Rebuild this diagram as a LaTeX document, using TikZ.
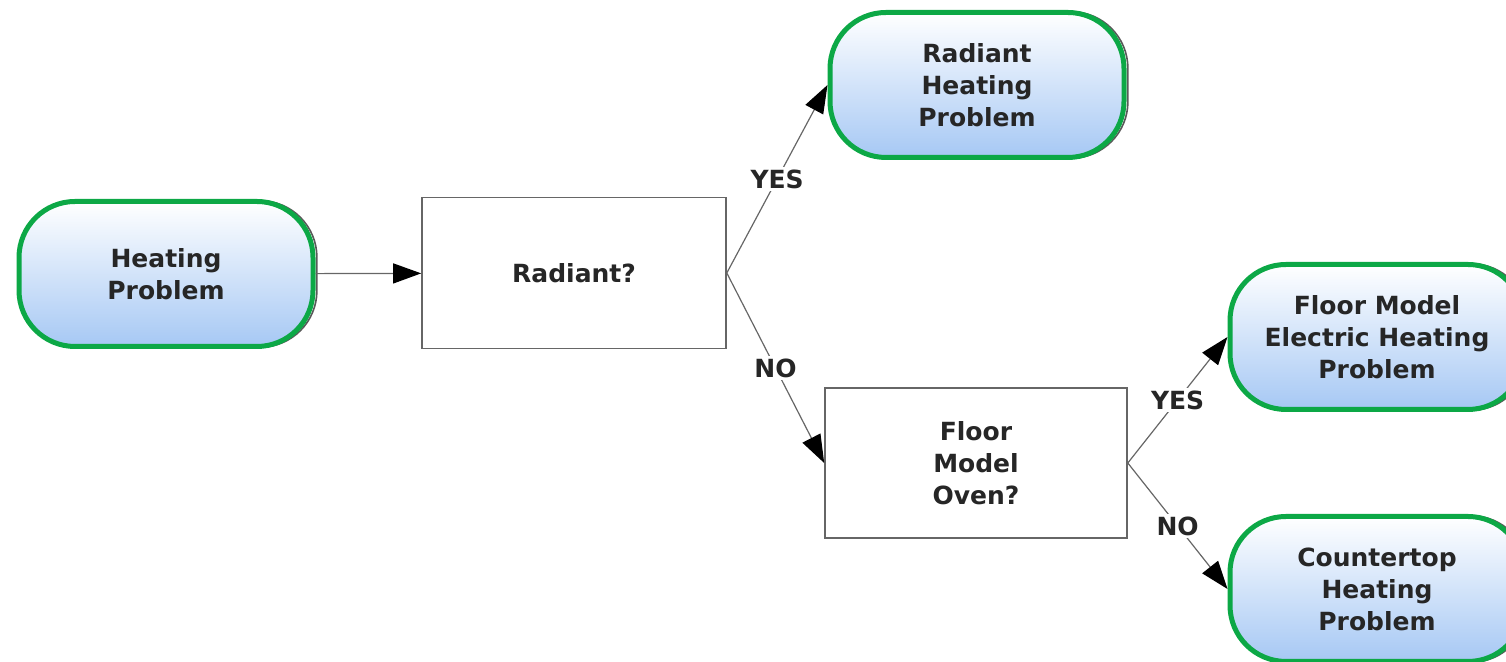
\documentclass[tikz,border=0pt]{standalone}
\usepackage{fontspec}
\setmainfont{DejaVu Sans}
\usetikzlibrary{arrows.meta,shadows}
\definecolor{stadgreen}{RGB}{12,168,70}
\definecolor{stadblue}{RGB}{166,200,244}

\begin{document}
\begin{tikzpicture}[x=0.5pt,y=0.5pt]
  \tikzset{TerminalStyle/.style = {
    shape         = rectangle,
    rounded corners = 28pt,
    draw          = stadgreen,
    line width    = 2.5pt,
    top color     = white,
    bottom color  = stadblue,
    general shadow = {draw = black!65, line width = 0.8pt, shadow xshift = 1.2pt, shadow yshift = 0pt, shadow scale = 1.01},
    text          = black!85,
    font          = \fontsize{12.5}{16}\selectfont\bfseries,
    align         = center,
    minimum width = 147pt,
    minimum height = 72.5pt,
    inner sep     = 1pt
    }
  }
  \tikzset{DecisionStyle/.style = {
    shape         = rectangle,
    draw          = black!60,
    fill          = white,
    line width    = 0.8pt,
    text          = black!85,
    font          = \fontsize{12.5}{16}\selectfont\bfseries,
    align         = center,
    minimum width = 151pt,
    minimum height = 75pt,
    inner sep     = 1pt
    }
  }
  \tikzset{EdgeStyle/.style = {
    draw          = black!60,
    line width    = 0.6pt,
    -{Triangle[length=14pt,width=10pt,black]}
    }
  }
  \tikzset{EdgeLabelStyle/.style = {
    fill          = white,
    text          = black!85,
    font          = \fontsize{12.5}{14}\selectfont\bfseries,
    inner sep     = 1.5pt,
    pos = 0.5
    }
  }

  \useasboundingbox (0, 0) rectangle (1506, 662);

	\node[TerminalStyle](heat) at (166, 388) {Heating\\Problem};
	\node[DecisionStyle, minimum width=152pt, minimum height=75.5pt](radq) at (574, 389) {Radiant?};
	\node[TerminalStyle](radp) at (977, 577) {Radiant\\Heating\\Problem};
	\node[DecisionStyle](floq) at (976, 199) {Floor\\Model\\Oven?};
	\node[TerminalStyle](flop) at (1377, 325) {Floor Model\\Electric Heating\\Problem};
	\node[TerminalStyle](coup) at (1377, 73) {Countertop\\Heating\\Problem};

	\draw[EdgeStyle](heat) -- (radq);
	\draw[EdgeStyle](radq.east) to node[EdgeLabelStyle]{YES} (radp.west);
	\draw[EdgeStyle](radq.east) to node[EdgeLabelStyle]{NO} (floq.west);
	\draw[EdgeStyle](floq.east) to node[EdgeLabelStyle]{YES} (flop.west);
	\draw[EdgeStyle](floq.east) to node[EdgeLabelStyle]{NO} (coup.west);

\end{tikzpicture}
\end{document}
